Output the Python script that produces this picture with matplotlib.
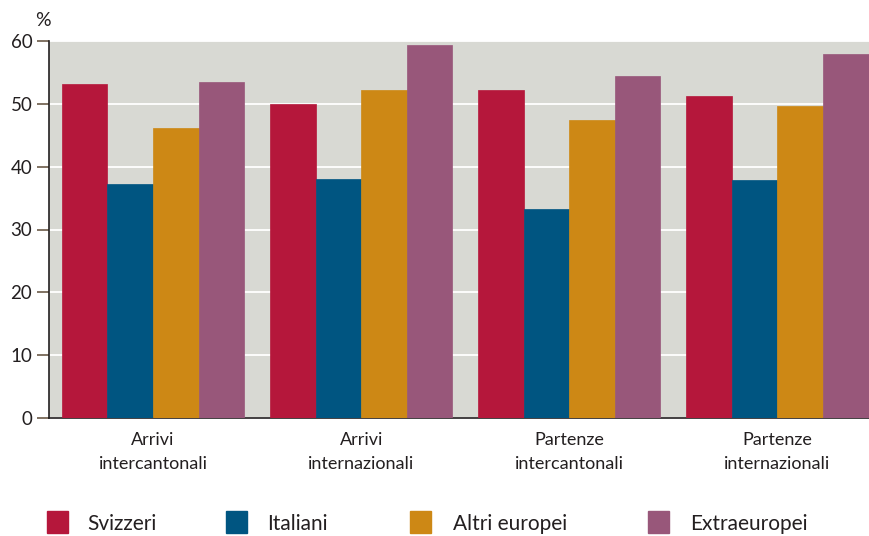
import matplotlib
matplotlib.use("Agg")
import matplotlib.pyplot as plt
from matplotlib.patches import Rectangle
import numpy as np

categories = ["Arrivi\nintercantonali", "Arrivi\ninternazionali",
              "Partenze\nintercantonali", "Partenze\ninternazionali"]
series_names = ["Svizzeri", "Italiani", "Altri europei", "Extraeuropei"]
svizzeri = [53.1, 50.0, 52.2, 51.2]
italiani = [37.2, 38.0, 33.3, 37.9]
altri_europei = [46.2, 52.2, 47.4, 49.7]
extraeuropei = [53.4, 59.4, 54.4, 57.9]
yticks = [0, 10, 20, 30, 40, 50, 60]

colors = ["#b5173b", "#005581", "#cd8815", "#98577a"]
series = [svizzeri, italiani, altri_europei, extraeuropei]
txt = "#231f20"

plt.rcParams['font.family'] = ['Lato', 'DejaVu Sans']

W, H = 869, 536
fig = plt.figure(figsize=(W/100, H/100), dpi=100)
ax = fig.add_axes([49/W, 1-418/H, (869-49)/W, (418-41)/H])
ax.set_facecolor("#d8d9d3")

x = np.arange(len(categories))
bw = 0.219
for i, (vals, c) in enumerate(zip(series, colors)):
    ax.bar(x + (i-1.5)*bw, vals, width=bw, color=c, zorder=3,
           edgecolor=c, linewidth=0.5)

ax.set_xlim(-0.5, 3.44)
ax.set_ylim(0, 60)
ax.set_yticks(yticks)
ax.set_yticklabels([str(t) for t in yticks], fontsize=13.5, color=txt)
ax.grid(axis='y', color='white', linewidth=1.3, zorder=1)
ax.set_xticks(x)
ax.set_xticklabels(categories, fontsize=13, color=txt, linespacing=1.6)
ax.tick_params(axis='x', length=0, pad=10)
ax.tick_params(axis='y', length=9, width=1.2, color="#6b5a48", pad=3)
for s in ["top", "right"]:
    ax.spines[s].set_visible(False)
ax.spines["left"].set_color(txt)
ax.spines["bottom"].set_color(txt)
ax.spines["left"].set_linewidth(1.2)
ax.spines["bottom"].set_linewidth(1.2)

fig.text(43/W, 1-21/H, "%", fontsize=14, color=txt, va='center', ha='center')

# legend
sq_x = [47, 226, 410, 648]
lab_x = [87, 267, 453, 690]
for sx, lx, name, c in zip(sq_x, lab_x, series_names, colors):
    fig.add_artist(Rectangle((sx/W, 1-533/H), 21/W, 22/H, color=c,
                             transform=fig.transFigure))
    fig.text(lx/W, 1-524/H, name, fontsize=15, color=txt, va='center', ha='left')

fig.savefig("out.png", dpi=100)
